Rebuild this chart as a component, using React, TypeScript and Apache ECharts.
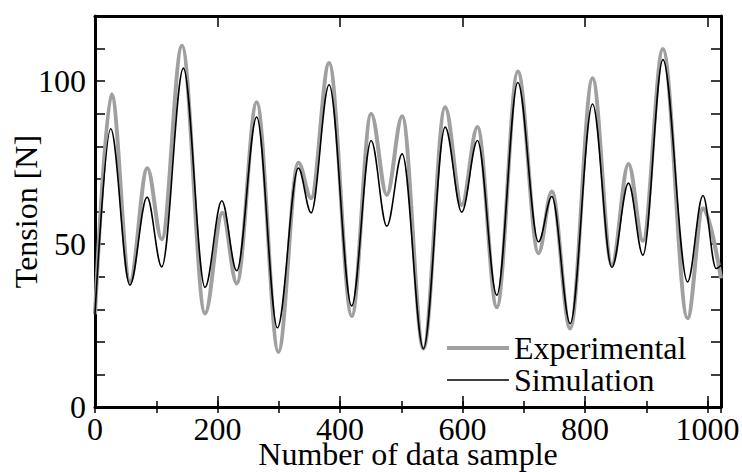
import React, { useEffect, useRef } from "react";
import * as echarts from "echarts";

// [sample index, tension N] read at local extrema of each curve
const experimental: [number, number][] = [
  [0, 28.5], [27, 96], [57, 38.5], [85.5, 73.3], [109, 51.5], [142, 110.9],
  [179.6, 28.7], [208, 59.6], [231.4, 37.9], [264, 93.5], [299.4, 16.9],
  [332, 75.0], [352.8, 64.1], [382.2, 105.6], [419.2, 27.9], [450.8, 90.0],
  [476.4, 65.1], [501.5, 89.2], [536.2, 17.9], [571.6, 92.0], [598.8, 62.0],
  [624.4, 85.9], [656, 30.6], [690.3, 103.0], [724, 47.2], [745.8, 66.1],
  [775.8, 24.1], [812.3, 100.9], [843.8, 43.6], [871, 74.6], [894.5, 51.0],
  [927.2, 109.9], [967.4, 27.2], [992.5, 61.0], [1022, 39.5],
];

const simulation: [number, number][] = [
  [0, 28.5], [25.6, 85.4], [57, 37.4], [85, 64.4], [109, 43.0], [144.3, 104.0],
  [179.6, 36.7], [207, 63.3], [231.4, 41.8], [264, 89.0], [297.8, 24.3],
  [332, 73.3], [352.8, 59.6], [382.2, 98.9], [419, 31.0], [450.8, 81.8],
  [476.4, 55.5], [501.5, 77.7], [536.2, 17.9], [571.6, 85.9], [598.8, 59.8],
  [624.4, 81.8], [656, 34.3], [690.3, 99.6], [724, 50.7], [745.8, 64.6],
  [775.8, 25.6], [812.3, 93.0], [843.8, 42.8], [871, 68.7], [894.5, 46.6],
  [927.2, 106.6], [967.4, 38.4], [992.5, 64.9], [1014, 42.5], [1022, 43.5],
];

const seriesNames = ["Experimental", "Simulation"];
const xRange = [0, 1022];
const yRange = [0, 120];
const xLabelStep = 200;
const xMinorStep = 100;
const yTickStep = 10;
const yLabelStep = 50;

const FONT = "'Liberation Serif', 'Times New Roman', serif";
const EXP_COLOR = "#a0a0a0";
const SIM_COLOR = "#000000";

export default function App() {
  const ref = useRef<HTMLDivElement>(null);
  useEffect(() => {
    if (!ref.current) return;
    const chart = echarts.init(ref.current, null, { renderer: "svg" });
    const frame = { show: true, onZero: false, lineStyle: { color: "#000", width: 3 } };
    const baseX = {
      type: "value" as const,
      min: xRange[0],
      max: xRange[1],
      splitLine: { show: false },
      gridIndex: 0,
    };
    const baseY = {
      type: "value" as const,
      min: yRange[0],
      max: yRange[1],
      interval: yTickStep,
      splitLine: { show: false },
      gridIndex: 0,
    };
    chart.setOption({
      animation: false,
      backgroundColor: "#fff",
      grid: { left: 95, top: 16, right: 21, bottom: 65, outerBoundsMode: "none", containLabel: false },
      legend: {
        orient: "vertical",
        left: 447,
        top: 332,
        padding: 0,
        itemGap: 0,
        itemWidth: 62,
        itemHeight: 14,
        symbolKeepAspect: true,
        data: [
          {
            name: seriesNames[0],
            icon: "path://M0 0H62V4H0Z",
            itemStyle: { color: EXP_COLOR, borderWidth: 0 },
          },
          {
            name: seriesNames[1],
            icon: "path://M0 0H62V1.6H0Z",
            itemStyle: { color: SIM_COLOR, borderWidth: 0 },
          },
        ],
        textStyle: { fontFamily: FONT, fontSize: 32, color: "#000" },
      },
      xAxis: [
        {
          ...baseX,
          position: "bottom",
          interval: xLabelStep,
          axisLine: frame,
          axisTick: { show: true, inside: true, length: 11, lineStyle: { color: "#000", width: 1.5 } },
          axisLabel: {
            show: true,
            margin: 6,
            fontFamily: FONT,
            fontSize: 32,
            color: "#000",
            formatter: (v: number) => (v % xLabelStep === 0 ? String(v) : ""),
          },
          name: "Number of data sample",
          nameLocation: "middle",
          nameGap: 31,
          nameMoveOverlap: false,
          nameTextStyle: { fontFamily: FONT, fontSize: 32, color: "#000" },
        },
        {
          ...baseX,
          position: "bottom",
          interval: xMinorStep,
          axisLine: { show: false },
          axisTick: { show: true, inside: true, length: 6, lineStyle: { color: "#000", width: 1.5 } },
          axisLabel: { show: false },
        },
        {
          ...baseX,
          position: "top",
          interval: xLabelStep,
          axisLine: frame,
          axisTick: { show: true, inside: true, length: 11, lineStyle: { color: "#000", width: 1.5 } },
          axisLabel: { show: false },
        },
        {
          ...baseX,
          position: "top",
          interval: xMinorStep,
          axisLine: { show: false },
          axisTick: { show: true, inside: true, length: 6, lineStyle: { color: "#000", width: 1.5 } },
          axisLabel: { show: false },
        },
      ],
      yAxis: [
        {
          ...baseY,
          position: "left",
          axisLine: frame,
          axisTick: { show: true, inside: true, length: 10, lineStyle: { color: "#000", width: 1.5 } },
          axisLabel: {
            show: true,
            margin: 9,
            fontFamily: FONT,
            fontSize: 32,
            color: "#000",
            formatter: (v: number) => (v % yLabelStep === 0 ? String(v) : ""),
          },
          name: "Tension [N]",
          nameLocation: "middle",
          nameGap: 53,
          nameMoveOverlap: false,
          nameTextStyle: { fontFamily: FONT, fontSize: 32, color: "#000" },
        },
        {
          ...baseY,
          position: "right",
          axisLine: frame,
          axisTick: { show: true, inside: true, length: 10, lineStyle: { color: "#000", width: 1.5 } },
          axisLabel: { show: false },
        },
      ],
      series: [
        {
          name: seriesNames[0],
          type: "line",
          xAxisIndex: 0,
          yAxisIndex: 0,
          data: experimental,
          smooth: 0.35,
          smoothMonotone: "x",
          symbol: "none",
          showSymbol: false,
          lineStyle: { color: EXP_COLOR, width: 4 },
          itemStyle: { color: EXP_COLOR },
        },
        {
          name: seriesNames[1],
          type: "line",
          xAxisIndex: 0,
          yAxisIndex: 0,
          data: simulation,
          smooth: 0.35,
          smoothMonotone: "x",
          symbol: "none",
          showSymbol: false,
          lineStyle: { color: SIM_COLOR, width: 1.6 },
          itemStyle: { color: SIM_COLOR },
        },
      ],
    });
    return () => chart.dispose();
  }, []);
  return (
    <div style={{ position: "absolute", left: 0, top: 0, width: 742, height: 472, background: "#fff" }}>
      <div ref={ref} style={{ width: 742, height: 472 }} />
    </div>
  );
}
